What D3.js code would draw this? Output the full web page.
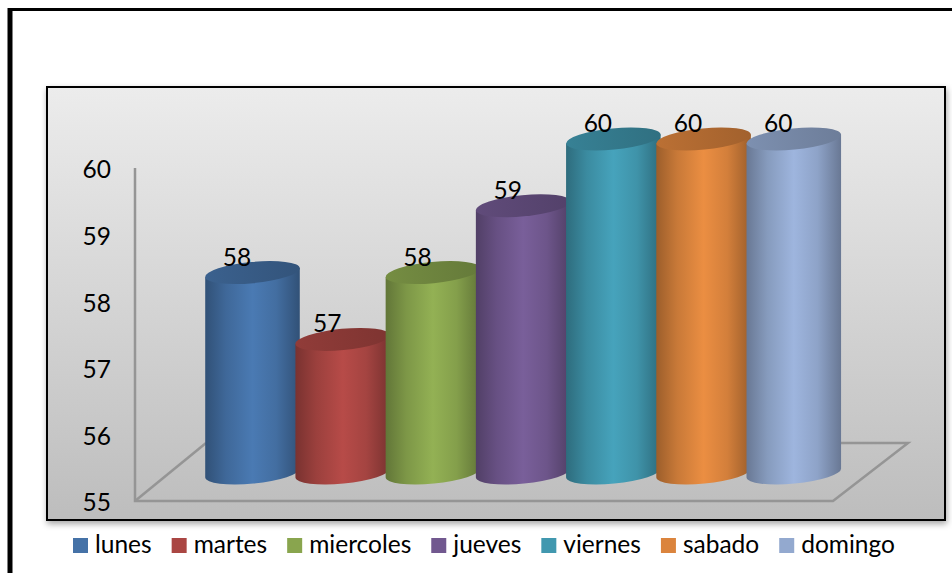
<!DOCTYPE html>
<html>
<head>
<meta charset="utf-8">
<script src="https://cdn.jsdelivr.net/npm/d3@7"></script>
<style>
    body { margin: 0; background: #fff; overflow: hidden; }
    text { font-family: Lato, "Open Sans", sans-serif; fill: #000; }
</style>
</head>
<body>
<div id="chart"></div>
<script>
const days = ["lunes", "martes", "miercoles", "jueves", "viernes", "sabado", "domingo"];
const values = [58, 57, 58, 59, 60, 60, 60];
const colors = ["#4572a7", "#aa4643", "#89a54e", "#71588f", "#4198af", "#db843d", "#93a9cf"];
const yTicks = [55, 56, 57, 58, 59, 60];

const width = 952, height = 573;
const fontSize = "24.5px";

const svg = d3.select("#chart").append("svg")
    .attr("width", width)
    .attr("height", height)
    .style("display", "block");

const defs = svg.append("defs");

// fondo del grafico
const bg = defs.append("linearGradient").attr("id", "panelBg")
    .attr("x1", 0).attr("y1", 0).attr("x2", 0).attr("y2", 1);
bg.append("stop").attr("offset", "0%").attr("stop-color", "#ececec");
bg.append("stop").attr("offset", "100%").attr("stop-color", "#bdbdbd");

const shadow = defs.append("filter").attr("id", "panelShadow")
    .attr("x", "-3%").attr("y", "-3%").attr("width", "106%").attr("height", "108%");
shadow.append("feDropShadow")
    .attr("dx", 1).attr("dy", 3).attr("stdDeviation", 3)
    .attr("flood-color", "#000").attr("flood-opacity", 0.35);

// marco negro exterior, se sale de la ventana por la derecha y abajo
svg.append("rect")
    .attr("x", 7.5).attr("y", 8)
    .attr("width", width).attr("height", height)
    .attr("fill", "#000");
svg.append("rect")
    .attr("x", 12.5).attr("y", 11)
    .attr("width", width).attr("height", height)
    .attr("fill", "#fff");

svg.append("rect")
    .attr("x", 47).attr("y", 87)
    .attr("width", 898).attr("height", 433)
    .attr("fill", "url(#panelBg)")
    .attr("stroke", "#000").attr("stroke-width", 2)
    .attr("filter", "url(#panelShadow)");

// escalas
const axisY = d3.scaleLinear().domain([55, 60]).range([501, 168]);
const barY = d3.scaleLinear().domain([55, 60]).range([473, 139]);
const x = d3.scaleBand().domain(days).range([205, 836.5]);

const rx = 47.5, ry = 10.6, tilt = -5.5;
const cosT = Math.cos(tilt * Math.PI / 180), sinT = Math.sin(tilt * Math.PI / 180);

// suelo y eje
const floorBack = barY(55) - 30;
const grid = svg.append("g")
    .attr("fill", "none")
    .attr("stroke", "#959595")
    .attr("stroke-width", 2.5);
grid.append("path").attr("d", `M135,${axisY(60)}V${axisY(55)}H833L908,${floorBack}H830`);
grid.append("path").attr("d", `M135,${axisY(55)}L206,${floorBack}`);

const yAxis = d3.axisLeft(axisY).tickValues(yTicks).tickSize(0).tickPadding(24).tickFormat(d3.format("d"));
const yG = svg.append("g").attr("transform", "translate(135,2)").call(yAxis);
yG.select(".domain").remove();
yG.selectAll("text").style("font-size", fontSize).style("font-family", "Lato, 'Open Sans', sans-serif").attr("fill", "#000");

// cilindros
days.forEach((day, i) => {
    const base = d3.color(colors[i]);
    const grad = defs.append("linearGradient").attr("id", "body" + i);
    [[0, base.darker(0.95)], [0.22, base.darker(0.25)], [0.5, base.brighter(0.2)], [0.75, base.darker(0.1)], [1, base.darker(0.95)]]
        .forEach(([o, c]) => grad.append("stop").attr("offset", o).attr("stop-color", c));
    const gradTop = defs.append("linearGradient").attr("id", "top" + i);
    [[0, base.darker(0.45)], [1, base.darker(0.85)]]
        .forEach(([o, c]) => gradTop.append("stop").attr("offset", o).attr("stop-color", c));
});

const cyl = svg.selectAll("g.cyl")
    .data(days.map((d, i) => ({ day: d, value: values[i], i })))
    .enter().append("g").attr("class", "cyl");

function pt(cx, cy, sign) {
    return [cx + sign * rx * cosT, cy + sign * rx * sinT];
}

cyl.append("path")
    .attr("fill", d => `url(#body${d.i})`)
    .attr("d", d => {
        const cx = x(d.day) + rx;
        const top = barY(d.value), bot = barY(55);
        const [lx, ly] = pt(cx, top, -1), [rx1, ry1] = pt(cx, top, 1);
        const [lbx, lby] = pt(cx, bot, -1), [rbx, rby] = pt(cx, bot, 1);
        return `M${lx},${ly}L${lbx},${lby}A${rx},${ry} ${tilt} 0 0 ${rbx},${rby}L${rx1},${ry1}Z`;
    });

cyl.append("ellipse")
    .attr("rx", rx)
    .attr("ry", ry)
    .attr("fill", d => `url(#top${d.i})`)
    .attr("transform", d => `translate(${x(d.day) + rx},${barY(d.value)}) rotate(${tilt})`);

svg.selectAll("text.value")
    .data(values)
    .enter().append("text")
    .attr("class", "value")
    .attr("x", (d, i) => x(days[i]) + rx - 15.5)
    .attr("y", d => barY(d) - 7)
    .attr("text-anchor", "middle")
    .style("font-size", fontSize)
    .text(d => d);

// leyenda
const legend = svg.append("g").attr("transform", "translate(73,538)");
let legendX = 0;
days.forEach((day, i) => {
    const item = legend.append("g").attr("transform", `translate(${legendX},0)`);
    item.append("rect").attr("width", 15).attr("height", 15).attr("fill", colors[i]);
    const t = item.append("text").attr("x", 22).attr("y", 15)
        .style("font-size", fontSize)
        .text(day);
    legendX += 22 + t.node().getComputedTextLength() + 20;
});
</script>
</body>
</html>
